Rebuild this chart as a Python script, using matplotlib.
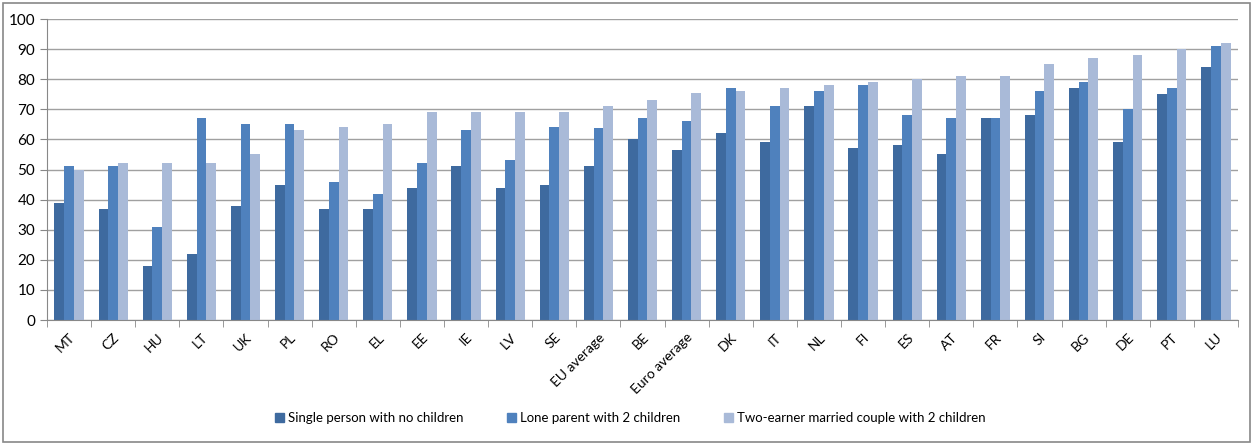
import matplotlib.pyplot as plt
import matplotlib.patches as mpatches
import numpy as np

countries = ["MT", "CZ", "HU", "LT", "UK", "PL", "RO", "EL", "EE", "IE", "LV", "SE",
             "EU average", "BE", "Euro average", "DK", "IT", "NL", "FI", "ES", "AT",
             "FR", "SI", "BG", "DE", "PT", "LU"]
single = [39, 37, 18, 22, 38, 45, 37, 37, 44, 51, 44, 45, 51, 60, 56.5, 62, 59, 71,
          57, 58, 55, 67, 68, 77, 59, 75, 84]
lone_parent = [51, 51, 31, 67, 65, 65, 46, 42, 52, 63, 53, 64, 63.7, 67, 66, 77, 71,
               76, 78, 68, 67, 67, 76, 79, 70, 77, 91]
couple = [50, 52, 52, 52, 55, 63, 64, 65, 69, 69, 69, 69, 71, 73, 75.5, 76, 77, 78,
          79, 80, 81, 81, 85, 87, 88, 90, 92]
series_names = ["Single person with no children", "Lone parent with 2 children",
                "Two-earner married couple with 2 children"]
colors = ["#3e6a9f", "#4f81bd", "#a9bad8"]

plt.rcParams["font.family"] = ["Lato", "DejaVu Sans"]

fig = plt.figure(figsize=(12.53, 4.44), dpi=100)
ax = fig.add_axes([47 / 1253, 1 - 320 / 444, (1238 - 47) / 1253, (320 - 19) / 444])

x = np.arange(len(countries))
w = 0.22
for i, (vals, name) in enumerate(zip([single, lone_parent, couple], series_names)):
    ax.bar(x + (i - 1) * w, vals, width=w, color=colors[i], label=name, zorder=2)

ax.set_xlim(-0.5, len(countries) - 0.5)
ax.set_ylim(0, 100)
ax.set_yticks(range(0, 101, 10))
ax.yaxis.grid(True, color="#a0a0a0", linewidth=1)
ax.set_axisbelow(True)
ax.set_xticks(x)
ax.set_xticklabels(countries, rotation=45, ha="right", rotation_mode="anchor")
ax.set_xticks(np.arange(-0.5, len(countries)), minor=True)
ax.tick_params(axis="x", which="major", length=0, pad=8, labelsize=10)
ax.tick_params(axis="x", which="minor", length=5, color="#888888")
ax.tick_params(axis="y", length=5, color="#888888", labelsize=11)
for s in ["top", "right"]:
    ax.spines[s].set_visible(False)
for s in ["left", "bottom"]:
    ax.spines[s].set_color("#888888")

handles = [mpatches.Patch(color=c, label=n) for c, n in zip(colors, series_names)]
fig.legend(handles=handles, loc="center", bbox_to_anchor=(0.503, 1 - 418 / 444), ncol=3,
           frameon=False, fontsize=9.5, handlelength=0.7, handleheight=0.7,
           handletextpad=0.3, columnspacing=3.3)

fig.patches.append(mpatches.Rectangle((0.002, 0.004), 0.996, 0.99, transform=fig.transFigure,
                                      fill=False, edgecolor="#888888", linewidth=1.2))

fig.savefig("out.png", dpi=100)
